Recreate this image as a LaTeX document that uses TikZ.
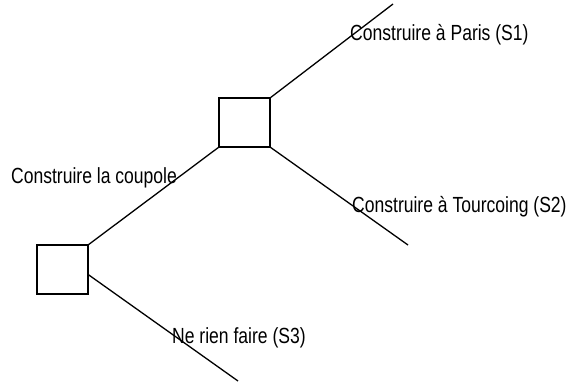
\documentclass[tikz,border=0pt]{standalone}
\usepackage{fontspec}
\setmainfont[FakeStretch=0.8]{Liberation Sans}
\usetikzlibrary{calc}
\begin{document}
\begin{tikzpicture}[x=1bp,y=-1bp,
  decbox/.style={draw,line width=1.3bp,minimum width=51bp,minimum height=49bp,inner sep=0,outer sep=0},
  branch/.style={line width=1.3bp},
  lbl/.style={anchor=base west,inner sep=0,font=\fontsize{22}{26}\selectfont}]
\useasboundingbox (0,0) rectangle (567,383);
\node[decbox] (b1) at (244.5,122.5) {};
\node[decbox] (b2) at (62.5,269.5) {};
\coordinate (e1) at (393,4);
\coordinate (e2) at (408,245);
\coordinate (e3) at (238,381);
\coordinate (s3) at ($(b2.south east)!0.4!(b2.north east)$);
\draw[branch] (b2.north east) -- (b1.south west);
\draw[branch] (b1.north east) -- (e1);
\draw[branch] (b1.south east) -- (e2);
\draw[branch] (s3) -- (e3);
\node[lbl] (t1) at (350,40) {Construire à Paris (S1)};
\node[lbl] (t0) at (11,183) {Construire la coupole};
\node[lbl] (t2) at (352,212) {Construire à Tourcoing (S2)};
\node[lbl] (t3) at (172,343) {Ne rien faire (S3)};
\end{tikzpicture}
\end{document}
